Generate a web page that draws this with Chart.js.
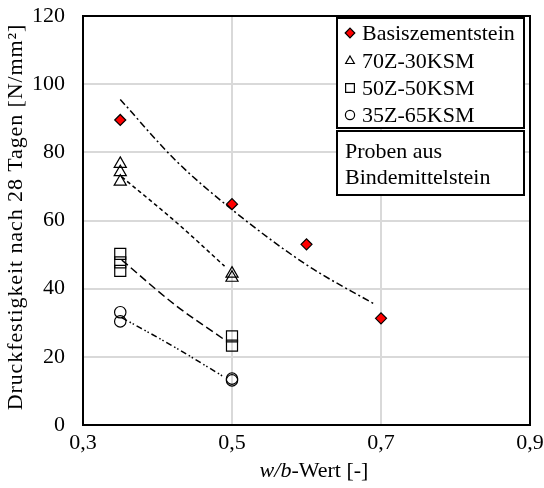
<!DOCTYPE html>
<html><head><meta charset="utf-8">
<script src="https://cdn.jsdelivr.net/npm/chart.js@4/dist/chart.umd.min.js"></script>
<style>html,body{margin:0;padding:0;background:#fff}#wrap{width:544px;height:488px;position:relative}</style>
</head><body><div id="wrap"><canvas id="c" width="544" height="488"></canvas></div>
<script>
const FONT = "'Liberation Serif','Times New Roman',serif";

// tick labels
const xTickValues = [0.3, 0.5, 0.7, 0.9];
const yTickValues = [0, 20, 40, 60, 80, 100, 120];
const xAxisTitleItalic = "w/b";
const xAxisTitleRest = "-Wert [-]";
const yAxisTitle = "Druckfestigkeit nach 28 Tagen [N/mm²]";

// series names
const seriesNames = ["Basiszementstein", "70Z-30KSM", "50Z-50KSM", "35Z-65KSM"];
const noteLines = ["Proben aus", "Bindemittelstein"];

// measured values (w/b, strength)
const basisX = [0.35, 0.5, 0.6, 0.7];
const basisY = [89.5, 64.8, 53, 31.3];
const z70X = [0.35, 0.35, 0.35, 0.5, 0.5];
const z70Y = [76.6, 74.2, 71.4, 44.4, 43.2];
const z50X = [0.35, 0.35, 0.35, 0.5, 0.5];
const z50Y = [50.2, 47.7, 45.2, 26, 23.3];
const z35X = [0.35, 0.35, 0.5, 0.5];
const z35Y = [33.1, 30.4, 13.6, 13.1];

// trend lines
const trendBasisX = [0.35, 0.425, 0.5, 0.6, 0.69];
const trendBasisY = [95.5, 77.5, 63.2, 47, 35.6];
const trend70X = [0.352, 0.425, 0.49];
const trend70Y = [72.8, 59.5, 46.6];
const trend50X = [0.352, 0.425, 0.49];
const trend50Y = [48.4, 35, 25];
const trend35X = [0.352, 0.425, 0.49];
const trend35Y = [31.5, 22.6, 14];

const pts = (xs, ys) => xs.map((x, i) => ({x: x, y: ys[i]}));

const markerStyles = [
  {pointStyle: 'rectRot', radius: 5.5, bg: '#ff0000', border: '#000', bw: 1.2, legR: 4.8},
  {pointStyle: 'triangle', radius: 7, bg: 'rgba(255,255,255,0)', border: '#000', bw: 1.2, legR: 5},
  {pointStyle: 'rect', radius: 7.8, bg: 'rgba(255,255,255,0)', border: '#000', bw: 1.2, legR: 6.2},
  {pointStyle: 'circle', radius: 5.7, bg: 'rgba(255,255,255,0)', border: '#000', bw: 1.2, legR: 4.6}
];
const seriesData = [pts(basisX, basisY), pts(z70X, z70Y), pts(z50X, z50Y), pts(z35X, z35Y)];
const trendData = [pts(trendBasisX, trendBasisY), pts(trend70X, trend70Y), pts(trend50X, trend50Y), pts(trend35X, trend35Y)];
const trendDash = [[7, 3, 2, 3], [4, 3], [8, 4], [6, 3, 1.5, 2, 1.5, 3]];

const datasets = [];
trendData.forEach((d, i) => {
  datasets.push({
    label: 'Trend ' + seriesNames[i], data: d, showLine: true, pointRadius: 0,
    borderColor: '#000', borderWidth: 1.5, borderDash: trendDash[i],
    cubicInterpolationMode: 'monotone', fill: false, order: 2
  });
});
seriesData.forEach((d, i) => {
  const m = markerStyles[i];
  datasets.push({
    label: seriesNames[i], data: d, showLine: false,
    pointStyle: m.pointStyle, pointRadius: m.radius, pointBackgroundColor: m.bg,
    pointBorderColor: m.border, pointBorderWidth: m.bw, order: 1
  });
});

const FS = 22;
const frame = {
  id: 'frame',
  afterDatasetsDraw(chart) {
    const {ctx, chartArea: a} = chart;
    ctx.save();
    ctx.strokeStyle = '#000';
    ctx.lineWidth = 2;
    ctx.strokeRect(a.left, a.top, a.right - a.left, a.bottom - a.top);
    ctx.restore();
  },
  afterDraw(chart) {
    const ctx = chart.ctx;
    ctx.save();
    // y-axis title
    ctx.save();
    ctx.fillStyle = '#000';
    ctx.font = FS + 'px ' + FONT;
    if ('letterSpacing' in ctx) ctx.letterSpacing = '0.9px';
    ctx.translate(16, 217);
    ctx.rotate(-Math.PI / 2);
    ctx.textAlign = 'center';
    ctx.textBaseline = 'middle';
    ctx.fillText(yAxisTitle, 0, 0);
    ctx.restore();

    // x-axis title with italic part
    ctx.fillStyle = '#000';
    ctx.textBaseline = 'middle';
    ctx.font = 'italic ' + FS + 'px ' + FONT;
    const w1 = ctx.measureText(xAxisTitleItalic).width;
    ctx.font = FS + 'px ' + FONT;
    const w2 = ctx.measureText(xAxisTitleRest).width;
    const cx = 314, cy = 471;
    let x0 = cx - (w1 + w2) / 2;
    ctx.textAlign = 'left';
    ctx.font = 'italic ' + FS + 'px ' + FONT;
    ctx.fillText(xAxisTitleItalic, x0, cy);
    ctx.font = FS + 'px ' + FONT;
    ctx.fillText(xAxisTitleRest, x0 + w1, cy);

    // legend box
    const L = 337, R = 524;
    ctx.lineWidth = 2;
    ctx.strokeStyle = '#000';
    ctx.fillStyle = '#fff';
    ctx.fillRect(L, 18, R - L, 110);
    ctx.strokeRect(L, 18, R - L, 110);
    ctx.fillRect(L, 131, R - L, 64);
    ctx.strokeRect(L, 131, R - L, 64);
    const rows = [33, 61, 88, 115];
    seriesNames.forEach((n, i) => {
      const m = markerStyles[i];
      ctx.save();
      ctx.fillStyle = m.bg;
      ctx.strokeStyle = m.border;
      ctx.lineWidth = m.bw;
      Chart.helpers.drawPoint(ctx, {pointStyle: m.pointStyle, radius: m.legR, borderWidth: m.bw, rotation: 0}, 350, rows[i]);
      ctx.restore();
      ctx.fillStyle = '#000';
      ctx.font = FS + 'px ' + FONT;
      ctx.textAlign = 'left';
      ctx.textBaseline = 'middle';
      ctx.fillText(n, 362, rows[i] + 1);
    });
    ctx.fillText(noteLines[0], 345, 152);
    ctx.fillText(noteLines[1], 345, 178);
    ctx.restore();
  }
};

new Chart(document.getElementById('c'), {
  type: 'scatter',
  data: {datasets: datasets},
  options: {
    responsive: false, animation: false, devicePixelRatio: 1,
    layout: {padding: {left: 0, right: 14, top: 16, bottom: 0}},
    plugins: {legend: {display: false}, tooltip: {enabled: false}, title: {display: false}},
    elements: {line: {tension: 0.4}},
    scales: {
      x: {
        type: 'linear', min: 0.3, max: 0.9,
        afterBuildTicks(s) { s.ticks = xTickValues.map(v => ({value: v})); },
        afterFit(s) { s.height = 63; s.paddingLeft = 0; s.paddingRight = 0; },
        grid: {color: '#d9d9d9', lineWidth: 2, drawTicks: false},
        border: {display: false},
        ticks: {padding: 5, color: '#000', font: {family: FONT, size: FS},
          callback: v => v.toFixed(1).replace('.', ','), maxRotation: 0},
        title: {display: false}
      },
      y: {
        type: 'linear', min: 0, max: 120,
        afterBuildTicks(s) { s.ticks = yTickValues.map(v => ({value: v})); },
        afterFit(s) { s.width = 83; s.paddingTop = 0; s.paddingBottom = 0; },
        grid: {color: '#d9d9d9', lineWidth: 2, drawTicks: false},
        border: {display: false},
        ticks: {padding: 18, color: '#000', font: {family: FONT, size: FS}},
        title: {display: false}
      }
    }
  },
  plugins: [frame]
});
</script>
</body></html>
